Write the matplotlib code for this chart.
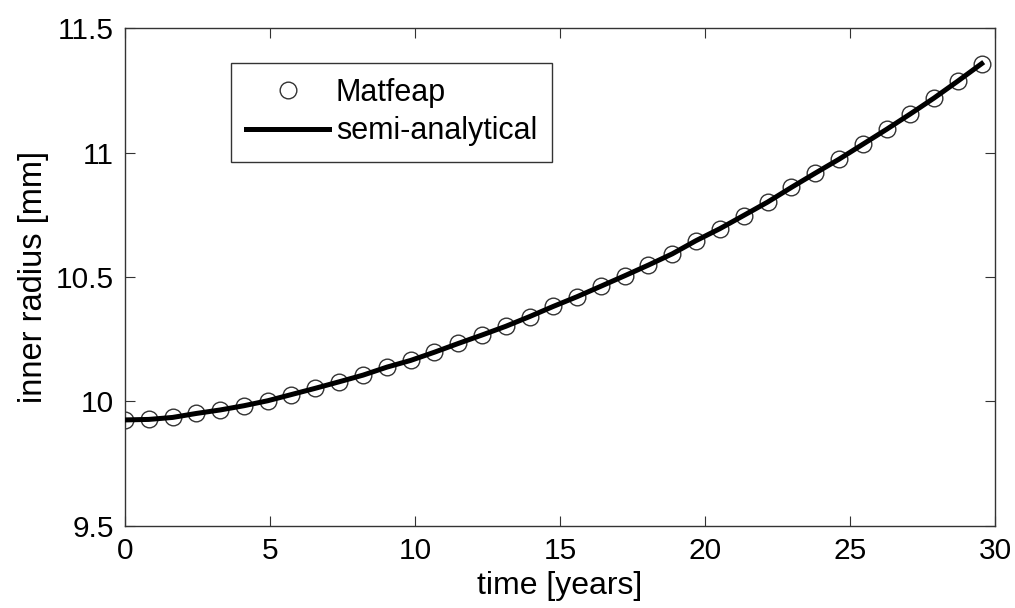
import matplotlib.pyplot as plt

plt.rcParams['font.family'] = ['Liberation Sans', 'DejaVu Sans']

# time [years] and inner radius [mm]
time = [0.00, 0.82, 1.64, 2.46, 3.28, 4.10, 4.92, 5.74, 6.56, 7.38,
        8.21, 9.03, 9.85, 10.67, 11.49, 12.31, 13.13, 13.95, 14.77, 15.59,
        16.41, 17.23, 18.05, 18.87, 19.69, 20.51, 21.33, 22.16, 22.98, 23.80,
        24.62, 25.44, 26.26, 27.08, 27.90, 28.72, 29.54]
radius = [9.926, 9.928, 9.936, 9.952, 9.966, 9.983, 10.003, 10.028, 10.053, 10.079,
          10.106, 10.138, 10.165, 10.198, 10.233, 10.267, 10.302, 10.341, 10.382, 10.421,
          10.463, 10.505, 10.548, 10.593, 10.646, 10.694, 10.747, 10.801, 10.860, 10.917,
          10.973, 11.033, 11.093, 11.155, 11.219, 11.287, 11.357]

xticks = [0, 5, 10, 15, 20, 25, 30]
yticks = [9.5, 10, 10.5, 11, 11.5]
yticklabels = ['9.5', '10', '10.5', '11', '11.5']

fig = plt.figure(figsize=(10.15, 6.08), dpi=100)
ax = fig.add_axes([0.1232, 0.1349, 0.8571, 0.8190])

ax.plot(time, radius, 'o', mfc='none', mec='#333333', mew=1.0, ms=12,
        label='Matfeap', zorder=2)
ax.plot(time, radius, '-', color='black', lw=3.6, label='semi-analytical', zorder=3)

ax.set_xlim(0, 30)
ax.set_ylim(9.5, 11.5)
ax.set_xticks(xticks)
ax.set_yticks(yticks)
ax.set_yticklabels(yticklabels)
ax.tick_params(direction='in', top=True, right=True, length=7, width=0.8,
               labelsize=21.5, color='#333333', pad=8)
for s in ax.spines.values():
    s.set_color('#333333')
    s.set_linewidth(1.0)

ax.set_xlabel('time [years]', fontsize=23, labelpad=4)
ax.set_ylabel('inner radius [mm]', fontsize=23.5, labelpad=5)

leg = ax.legend(loc='upper left', bbox_to_anchor=(0.122, 0.930), borderaxespad=0,
                fontsize=22, fancybox=False, handlelength=2.7, handletextpad=0.22,
                borderpad=0.5, labelspacing=0.27, framealpha=1)
leg.get_frame().set_edgecolor('#333333')
leg.get_frame().set_linewidth(1.0)

fig.savefig('out.png', dpi=100, facecolor='white')
